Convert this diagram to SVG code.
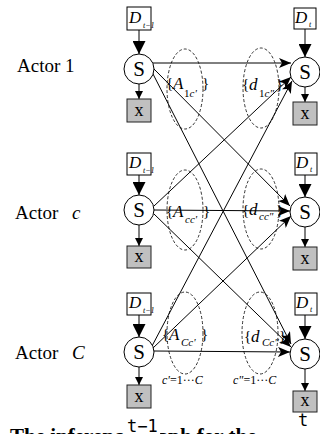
<svg xmlns="http://www.w3.org/2000/svg" width="320" height="434" viewBox="0 0 320 434">
<style>
.box{fill:#fff;stroke:#000;stroke-width:1}
.xbox{fill:#c0c0c0;stroke:#222;stroke-width:1}
.node{fill:#fff;stroke:#000;stroke-width:1}
.ell{fill:none;stroke:#000;stroke-width:0.8;stroke-dasharray:3,2}
.ln{stroke:#000;stroke-width:1;fill:none}
.s{font-family:"Liberation Serif",serif;font-size:21px;text-anchor:middle}
.x{font-family:"Liberation Serif",serif;font-size:18px;text-anchor:middle}
.d{font-family:"Liberation Serif",serif;font-size:17px;font-style:italic}
.dsub{font-family:"Liberation Serif",serif;font-size:8px;font-style:italic}
.lab{font-family:"Liberation Serif",serif;font-size:19px}
.m{font-family:"Liberation Serif",serif;font-size:15px}
.mi{font-style:italic}
.sub{font-family:"Liberation Serif",serif;font-size:11px}
.rng{font-family:"Liberation Serif",serif;font-size:12px}
.tm{font-family:"DejaVu Sans Mono",monospace;font-size:17px}
.cap{font-family:"Liberation Serif",serif;font-size:21px;font-weight:bold}
</style>
<defs>
<marker id="ah" viewBox="0 0 12 10" refX="12" refY="5" markerWidth="12" markerHeight="10" markerUnits="userSpaceOnUse" orient="auto"><path d="M0,0 L12,5 L0,10 L3,5 z" fill="#000"/></marker>
<marker id="big" viewBox="0 0 12 12" refX="12" refY="6" markerWidth="13" markerHeight="13" markerUnits="userSpaceOnUse" orient="auto"><path d="M0,0 L12,6 L0,12 z" fill="#000"/></marker>
<marker id="sm" viewBox="0 0 8 8" refX="8" refY="4" markerWidth="8" markerHeight="8" markerUnits="userSpaceOnUse" orient="auto"><path d="M0,0 L8,4 L0,8 z" fill="#000"/></marker>
</defs>
<rect width="320" height="434" fill="#fff"/>

<text class="cap" x="10" y="443">The inference graph for the</text>

<g id="labels">
<text class="lab" x="17" y="72">Actor 1</text>
<text class="lab" x="15" y="219">Actor <tspan x="72" font-style="italic">c</tspan></text>
<text class="lab" x="15" y="359">Actor <tspan x="72" font-style="italic">C</tspan></text>
</g>

<g id="ellipses">
<ellipse class="ell" cx="185" cy="89" rx="18" ry="40"/>
<ellipse class="ell" cx="261" cy="88" rx="18" ry="40"/>
<ellipse class="ell" cx="185" cy="210" rx="18" ry="40"/>
<ellipse class="ell" cx="261" cy="209" rx="18" ry="40"/>
<ellipse class="ell" cx="185" cy="333" rx="18" ry="41"/>
<ellipse class="ell" cx="260" cy="333" rx="18" ry="41"/>
</g>

<g id="connectors">
<line class="ln" x1="139" y1="30" x2="139" y2="54" marker-end="url(#big)"/>
<line class="ln" x1="139" y1="84" x2="139" y2="99" marker-end="url(#sm)"/>
<line class="ln" x1="305" y1="29" x2="305" y2="57" marker-end="url(#big)"/>
<line class="ln" x1="305" y1="87" x2="305" y2="102" marker-end="url(#sm)"/>
<line class="ln" x1="139" y1="175" x2="139" y2="195" marker-end="url(#big)"/>
<line class="ln" x1="139" y1="225" x2="139" y2="246" marker-end="url(#sm)"/>
<line class="ln" x1="305" y1="175" x2="305" y2="197" marker-end="url(#big)"/>
<line class="ln" x1="305" y1="227" x2="305" y2="247" marker-end="url(#sm)"/>
<line class="ln" x1="139" y1="315" x2="139" y2="337" marker-end="url(#big)"/>
<line class="ln" x1="139" y1="367" x2="139" y2="385" marker-end="url(#sm)"/>
<line class="ln" x1="305" y1="315" x2="305" y2="339" marker-end="url(#big)"/>
<line class="ln" x1="305" y1="369" x2="305" y2="391" marker-end="url(#sm)"/>

<line class="ln" x1="153" y1="63" x2="291" y2="63" marker-end="url(#ah)"/>
<line class="ln" x1="153" y1="68" x2="290" y2="206" marker-end="url(#ah)"/>
<line class="ln" x1="152" y1="72" x2="291" y2="344" marker-end="url(#ah)"/>
<line class="ln" x1="154" y1="206" x2="291" y2="77" marker-end="url(#ah)"/>
<line class="ln" x1="154" y1="210" x2="290" y2="211" marker-end="url(#ah)"/>
<line class="ln" x1="154" y1="214" x2="291" y2="347" marker-end="url(#ah)"/>
<line class="ln" x1="152" y1="346" x2="292" y2="81" marker-end="url(#ah)"/>
<line class="ln" x1="153" y1="348" x2="291" y2="216" marker-end="url(#ah)"/>
<line class="ln" x1="154" y1="351" x2="290" y2="352" marker-end="url(#ah)"/>
</g>

<g id="sets">
<text class="m" x="166" y="88">{<tspan class="mi" x="173" y="89" font-size="17">A</tspan><tspan class="sub" x="184" y="97">1<tspan class="mi">c'</tspan></tspan><tspan x="202" y="88">}</tspan></text>
<text class="m" x="242" y="89">{<tspan class="mi" x="249" y="90" font-size="17">d</tspan><tspan class="sub" x="259" y="97">1<tspan class="mi">c"</tspan></tspan><tspan x="276" y="89">}</tspan></text>
<text class="m" x="166" y="216">{<tspan class="mi" x="173" y="217" font-size="17">A</tspan><tspan class="sub mi" x="185" y="223">cc'</tspan><tspan x="203" y="216">}</tspan></text>
<text class="m" x="242" y="215">{<tspan class="mi" x="249" y="215" font-size="17">d</tspan><tspan class="sub mi" x="259" y="220">cc"</tspan><tspan x="276" y="215">}</tspan></text>
<text class="m" x="162" y="339">{<tspan class="mi" x="169" y="340" font-size="17">A</tspan><tspan class="sub mi" x="181" y="346">Cc'</tspan><tspan x="201" y="339">}</tspan></text>
<text class="m" x="244" y="341">{<tspan class="mi" x="251" y="342" font-size="17">d</tspan><tspan class="sub mi" x="262" y="346">Cc"</tspan><tspan x="279" y="341">}</tspan></text>
<text class="rng" x="162" y="384"><tspan class="mi">c'</tspan>=1···<tspan class="mi">C</tspan></text>
<text class="rng" x="233" y="384"><tspan class="mi">c"</tspan>=1···<tspan class="mi">C</tspan></text>
</g>

<g id="d-tl"><rect class="box" x="127" y="7" width="24" height="23"/><text class="d" x="129" y="23">D</text><text class="dsub" x="143" y="28">t−1</text></g>
<g id="s-tl"><circle class="node" cx="139" cy="69" r="15"/><text class="s" x="139" y="76">S</text></g>
<g id="x-tl"><rect class="xbox" x="127" y="99" width="24" height="23"/><text class="x" x="139" y="116">x</text></g>
<g id="d-tr"><rect class="box" x="294" y="8" width="22" height="21"/><text class="d" x="295" y="23">D</text><text class="dsub" x="309" y="27">t</text></g>
<g id="s-tr"><circle class="node" cx="305" cy="72" r="15"/><text class="s" x="305" y="79">S</text></g>
<g id="x-tr"><rect class="xbox" x="293" y="102" width="24" height="23"/><text class="x" x="305" y="119">x</text></g>

<g id="d-ml"><rect class="box" x="127" y="153" width="24" height="22"/><text class="d" x="129" y="168">D</text><text class="dsub" x="143" y="173">t−1</text></g>
<g id="s-ml"><circle class="node" cx="139" cy="210" r="15"/><text class="s" x="139" y="217">S</text></g>
<g id="x-ml"><rect class="xbox" x="127" y="246" width="24" height="22"/><text class="x" x="139" y="262">x</text></g>
<g id="d-mr"><rect class="box" x="295" y="153" width="22" height="22"/><text class="d" x="296" y="168">D</text><text class="dsub" x="310" y="172">t</text></g>
<g id="s-mr"><circle class="node" cx="305" cy="212" r="15"/><text class="s" x="305" y="219">S</text></g>
<g id="x-mr"><rect class="xbox" x="293" y="247" width="24" height="23"/><text class="x" x="305" y="264">x</text></g>

<g id="d-bl"><rect class="box" x="127" y="293" width="24" height="22"/><text class="d" x="129" y="308">D</text><text class="dsub" x="143" y="313">t−1</text></g>
<g id="s-bl"><circle class="node" cx="139" cy="352" r="15"/><text class="s" x="139" y="359">S</text></g>
<g id="x-bl"><rect class="xbox" x="127" y="385" width="24" height="23"/><text class="x" x="139" y="402">x</text></g>
<g id="d-br"><rect class="box" x="295" y="293" width="22" height="22"/><text class="d" x="296" y="308">D</text><text class="dsub" x="310" y="312">t</text></g>
<g id="s-br"><circle class="node" cx="305" cy="354" r="15"/><text class="s" x="305" y="361">S</text></g>
<g id="x-br"><rect class="xbox" x="293" y="391" width="24" height="21"/><text class="x" x="305" y="406">x</text></g>

<g id="time">
<rect x="124" y="414" width="36" height="20" fill="#fff"/>
<text class="tm" x="127" y="432">t−1</text>
<rect x="296" y="413.5" width="14" height="20" fill="#fff"/>
<text class="tm" x="298" y="426">t</text>
</g>
</svg>
